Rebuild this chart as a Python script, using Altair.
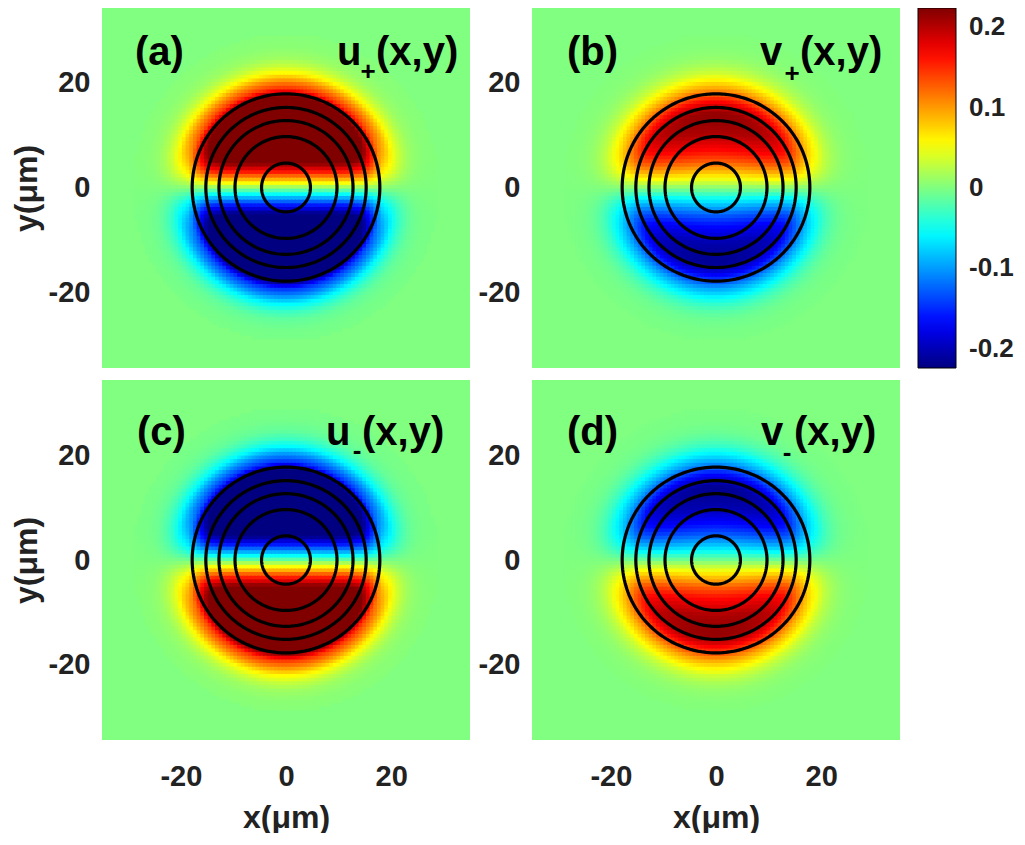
import numpy as np
import pandas as pd
import altair as alt

FONT = "Liberation Sans"

# ---------------- data ----------------
x_domain = [-35, 35]
y_domain_top = [-34.4, 34.2]
y_domain_bottom = [-34.6, 34.6]
axis_ticks = [-20, 0, 20]
colorbar_ticks = [-0.2, -0.1, 0, 0.1, 0.2]
color_limit = 0.224

# jet colour map
jet_positions = [0, 0.125, 0.375, 0.625, 0.875, 1]
jet_colors = ["#000080", "#0000ff", "#00ffff", "#ffff00", "#ff0000", "#800000"]

# radial envelope of each field (value on the vertical axis, unsaturated estimate)
radius = [0, 3, 6, 9, 11, 13, 14.5, 16, 17.5, 19, 20.5, 22, 23.5, 25, 27, 30, 35]
env_u_plus = [0.42, 0.42, 0.42, 0.42, 0.42, 0.41, 0.39, 0.34, 0.25, 0.155, 0.11, 0.06, 0.03, 0.013, 0.005, 0.002, 0.001]
env_v_plus = [0.20, 0.20, 0.21, 0.22, 0.228, 0.228, 0.222, 0.19, 0.145, 0.10, 0.065, 0.035, 0.018, 0.008, 0.003, 0.001, 0.0]
env_u_minus = [-0.42, -0.42, -0.42, -0.42, -0.42, -0.41, -0.39, -0.34, -0.25, -0.155, -0.11, -0.06, -0.03, -0.013, -0.005, -0.002, -0.001]
env_v_minus = [-0.20, -0.20, -0.21, -0.22, -0.228, -0.228, -0.222, -0.19, -0.145, -0.10, -0.065, -0.035, -0.018, -0.008, -0.003, -0.001, 0.0]

# normalised profile across y (sign change at y = 0)
band_y = [-35, -14, -10, -7, -5, -3, -1.5, 0, 1.5, 3, 5, 7, 10, 14, 35]
band_u = [-1, -0.94, -0.85, -0.70, -0.55, -0.36, -0.185, 0, 0.185, 0.36, 0.55, 0.70, 0.85, 0.94, 1]
band_v = [-1, -0.96, -0.89, -0.76, -0.61, -0.40, -0.21, 0, 0.21, 0.40, 0.61, 0.76, 0.89, 0.96, 1]

# radii of the black contour circles (um)
contour_radii = [4.65, 9.7, 12.75, 15.25, 17.85]

panel_letters = ["(a)", "(b)", "(c)", "(d)"]
panel_bases = ["u", "v", "u", "v"]
panel_subs = ["+", "+", "-", "-"]
panel_envs = [env_u_plus, env_v_plus, env_u_minus, env_v_minus]
panel_bands = [band_u, band_v, band_u, band_v]

# ---------------- layout / style ----------------
PW = 368
PH_ROWS = [360, 360]
TS = 40  # panel text size
# text placement inside each panel (pixels): letter x, base x, sub x, paren x, baseline y, sub y
text_pos = [
    dict(lx=33, bx=235, sx=266, px=274, by=57, sy=64),
    dict(lx=35, bx=228, sx=260, px=268, by=57, sy=66),
    dict(lx=35, bx=224, sx=255, px=260, by=65, sy=71),
    dict(lx=35, bx=229, sx=255, px=262, by=65, sy=73),
]

n = 100
step = (x_domain[1] - x_domain[0]) / n
centers = x_domain[0] + step * (np.arange(n) + 0.5)
gx, gy = np.meshgrid(centers, centers)
gr = np.hypot(gx, gy)
mask = gr <= 29
half = step / 2 + 0.2

color_domain = [-color_limit + p * 2 * color_limit for p in jet_positions]
color_scale = alt.Scale(domain=color_domain, range=jet_colors, clamp=True, interpolate="rgb")

neg_int = "(datum.value < 0 ? '-' : '') + format(abs(datum.value), 'd')"
neg_dec = "datum.value == 0 ? '0' : (datum.value < 0 ? '-' : '') + format(abs(datum.value), '.1f')"

legend = alt.Legend(
    title=None, values=colorbar_ticks, orient="right", direction="vertical",
    gradientLength=PH_ROWS[0], gradientThickness=38, gradientStrokeColor="black",
    gradientStrokeWidth=1, labelFont=FONT, labelFontSize=26, labelFontWeight="bold",
    labelColor="#222222", labelOffset=13, labelExpr=neg_dec, offset=18, padding=0,
)

# contour circle points
theta = np.deg2rad(np.arange(0, 362, 2))
ring_rows = []
for k, rr in enumerate(contour_radii):
    for j, t in enumerate(theta):
        ring_rows.append({"ring": k, "o": j, "cx": rr * np.cos(t), "cy": rr * np.sin(t)})
ring_df = pd.DataFrame(ring_rows)


def make_panel(i):
    row, col = divmod(i, 2)
    val = np.interp(gr, radius, panel_envs[i]) * np.interp(gy, band_y, panel_bands[i])
    df = pd.DataFrame({
        "x0": np.round(gx[mask] - half, 3), "x1": np.round(gx[mask] + half, 3),
        "y0": np.round(gy[mask] - half, 3), "y1": np.round(gy[mask] + half, 3),
        "val": np.round(val[mask], 4),
    })
    if row == 1:
        xaxis = alt.Axis(values=axis_ticks, title="x(μm)", labelExpr=neg_int, labelPadding=22,
                         titlePadding=11)
    else:
        xaxis = None
    yaxis = alt.Axis(values=axis_ticks, title="y(μm)" if col == 0 else None,
                     labelExpr=neg_int, labelPadding=12, titlePadding=5)
    xs = alt.Scale(domain=x_domain, nice=False, zero=False)
    ys = alt.Scale(domain=y_domain_top if row == 0 else y_domain_bottom, nice=False, zero=False)
    heat = alt.Chart(df).mark_rect(strokeWidth=0).encode(
        x=alt.X("x0:Q", scale=xs, axis=xaxis),
        x2="x1:Q",
        y=alt.Y("y0:Q", scale=ys, axis=yaxis),
        y2="y1:Q",
        color=alt.Color("val:Q", scale=color_scale, legend=legend),
    )
    rings = alt.Chart(ring_df).mark_line(color="black", strokeWidth=3.2).encode(
        x=alt.X("cx:Q", scale=xs), y=alt.Y("cy:Q", scale=ys),
        detail="ring:N", order="o:Q",
    )
    tp = text_pos[i]

    def txt(s, x, y, size, align="left", baseline="alphabetic"):
        return alt.Chart(pd.DataFrame({"t": [s]})).mark_text(
            align=align, baseline=baseline, font=FONT, fontSize=size,
            fontWeight="bold", color="black",
        ).encode(text="t:N", x=alt.value(x), y=alt.value(y))

    layers = [
        heat, rings,
        txt(panel_letters[i], tp["lx"], tp["by"], TS),
        txt(panel_bases[i], tp["bx"], tp["by"], TS),
        txt(panel_subs[i], tp["sx"], tp["sy"], 26, align="center", baseline="middle"),
        txt("(x,y)", tp["px"], tp["by"], TS),
    ]
    return alt.layer(*layers).properties(width=PW, height=PH_ROWS[row])


top = alt.hconcat(make_panel(0), make_panel(1), spacing=62, bounds="flush")
bottom = alt.hconcat(make_panel(2), make_panel(3), spacing=62, bounds="flush")
chart = alt.vconcat(top, bottom, spacing=12).properties(
    padding={"left": 2, "top": 0, "right": 0, "bottom": 0}
).configure_view(fill="#80ff80", strokeWidth=0).configure_axis(
    labelFont=FONT, labelFontSize=29, labelFontWeight="bold", labelColor="#222222",
    titleFont=FONT, titleFontSize=32, titleFontWeight="bold", titleColor="#222222",
    ticks=False, domain=False, grid=False,
)

chart.save("out.html", embed_options={"renderer": "svg", "actions": False})
